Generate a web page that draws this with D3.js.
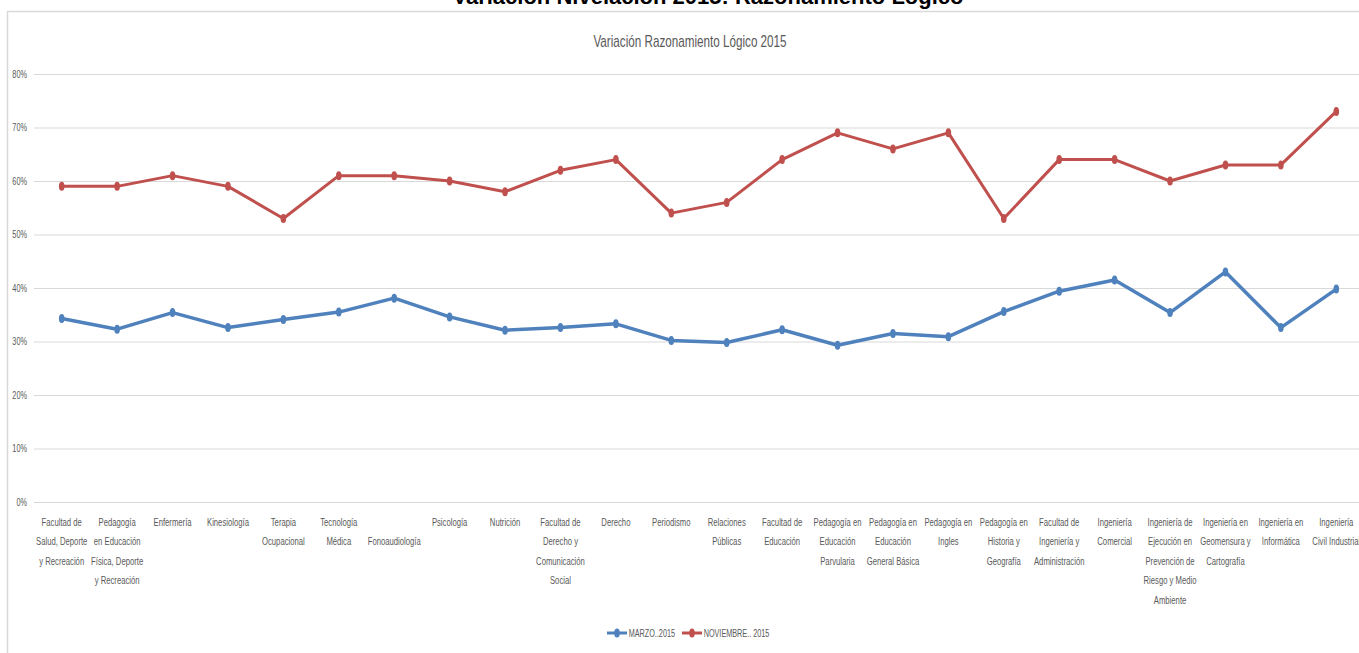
<!DOCTYPE html>
<html>
<head>
<meta charset="utf-8">
<style>
  body { margin: 0; background: #fff; }
  svg { display: block; }
  text { font-family: "Liberation Sans", Arial, sans-serif; }
</style>
</head>
<body>
<svg width="1359" height="653"></svg>
<script src="https://cdnjs.cloudflare.com/ajax/libs/d3/7.8.5/d3.min.js"></script>
<script>
  // tick labels, already broken into lines the way the original wraps them
  var categories = [
    "Facultad de|Salud, Deporte|y Recreación",
    "Pedagogía|en Educación|Física, Deporte|y Recreación",
    "Enfermería",
    "Kinesiología",
    "Terapia|Ocupacional",
    "Tecnología|Médica",
    "|Fonoaudiología",
    "Psicología",
    "Nutrición",
    "Facultad de|Derecho y|Comunicación|Social",
    "Derecho",
    "Periodismo",
    "Relaciones|Públicas",
    "Facultad de|Educación",
    "Pedagogía en|Educación|Parvularia",
    "Pedagogía en|Educación|General Básica",
    "Pedagogía en|Ingles",
    "Pedagogía en|Historia y|Geografía",
    "Facultad de|Ingeniería y|Administración",
    "Ingeniería|Comercial",
    "Ingeniería de|Ejecución en|Prevención de|Riesgo y Medio|Ambiente",
    "Ingeniería en|Geomensura y|Cartografía",
    "Ingeniería en|Informática",
    "Ingeniería|Civil Industrial"
  ];

  var marzo = [34.3, 32.3, 35.4, 32.6, 34.1, 35.5, 38.1, 34.6, 32.1, 32.6, 33.3, 30.2,
               29.8, 32.2, 29.3, 31.5, 30.9, 35.6, 39.4, 41.5, 35.4, 43.0, 32.6, 39.8];
  var noviembre = [59, 59, 61, 59, 53, 61, 61, 60, 58, 62, 64, 54,
                   56, 64, 69, 66, 69, 53, 64, 64, 60, 63, 63, 73];

  var yTicks = [0, 10, 20, 30, 40, 50, 60, 70, 80];
  var seriesNames = ["MARZO..2015", "NOVIEMBRE.. 2015"];
  var seriesColors = ["#4F81BD", "#C0504D"];

  var narrow = 0.7;   // squeeze glyphs to look like the condensed original font

  var svg = d3.select("svg"),
      margin = {top: 74, right: -5, bottom: 151, left: 34},
      width = +svg.attr("width") - margin.left - margin.right,
      height = +svg.attr("height") - margin.top - margin.bottom;

  // page title, mostly cut off at the top edge
  svg.append("text")
      .attr("x", 708)
      .attr("y", 4)
      .attr("text-anchor", "middle")
      .style("font-weight", "bold")
      .style("font-size", "22px")
      .attr("fill", "#000")
      .text("Variación Nivelación 2015: Razonamiento Lógico");

  // chart frame
  svg.append("path")
      .attr("d", "M7.5,653V11.5H1359")
      .attr("fill", "none")
      .attr("stroke", "#d9d9d9")
      .attr("stroke-width", 1.5);

  svg.append("g")
      .attr("transform", "translate(690,47) scale(0.73,1)")
    .append("text")
      .attr("text-anchor", "middle")
      .attr("fill", "#595959")
      .style("font-size", "16px")
      .text("Variación Razonamiento Lógico 2015");

  var g = svg.append("g").attr("transform", "translate(" + margin.left + "," + margin.top + ")");

  var x = d3.scaleBand()
      .domain(categories)
      .range([0, width]);

  var y = d3.scaleLinear()
      .domain([0, 80])
      .range([height, 0]);

  g.append("g")
      .call(d3.axisLeft(y).tickValues(yTicks).tickSize(-width).tickFormat(function(d) { return d + "%"; }))
      .call(function(a) {
        a.select(".domain").remove();
        a.selectAll(".tick line").attr("stroke", "#d9d9d9");
        a.selectAll(".tick text")
            .attr("x", -7 / narrow)
            .attr("transform", "scale(" + narrow + ",1)")
            .attr("fill", "#595959")
            .style("font-size", "10.5px");
      });

  var xAxis = g.append("g")
      .attr("transform", "translate(0," + height + ")")
      .call(d3.axisBottom(x).tickSize(0).tickFormat(""));
  xAxis.select(".domain").remove();

  xAxis.selectAll(".tick").each(function(d) {
    var t = d3.select(this).append("text")
        .attr("fill", "#595959")
        .attr("text-anchor", "middle")
        .attr("transform", "scale(" + narrow + ",1)")
        .style("font-size", "11px");
    d.split("|").forEach(function(line, i) {
      t.append("tspan")
          .attr("x", 0)
          .attr("y", 24 + i * 19.4)
          .text(line);
    });
  });

  var line = d3.line()
      .x(function(d, i) { return x(categories[i]) + x.bandwidth() / 2; })
      .y(function(d) { return y(d); });

  [marzo, noviembre].forEach(function(s, k) {
    g.append("path")
        .datum(s)
        .attr("fill", "none")
        .attr("stroke", seriesColors[k])
        .attr("stroke-width", k === 0 ? 3.5 : 3)
        .attr("stroke-linejoin", "round")
        .attr("d", line);

    g.selectAll(".m" + k)
      .data(s)
      .enter().append("ellipse")
        .attr("cx", function(d, i) { return x(categories[i]) + x.bandwidth() / 2; })
        .attr("cy", function(d) { return y(d); })
        .attr("rx", 2.8)
        .attr("ry", 4.5)
        .attr("fill", seriesColors[k]);
  });

  // legend
  var legend = svg.append("g").attr("transform", "translate(607,633)");
  var lx = [0, 75];
  seriesNames.forEach(function(n, k) {
    var lg = legend.append("g").attr("transform", "translate(" + lx[k] + ",0)");
    lg.append("line")
        .attr("x1", 0).attr("x2", 20)
        .attr("stroke", seriesColors[k])
        .attr("stroke-width", 3);
    lg.append("ellipse")
        .attr("cx", 10).attr("rx", 2.8).attr("ry", 4.5)
        .attr("fill", seriesColors[k]);
    lg.append("text")
        .attr("x", 23 / narrow)
        .attr("dy", "0.35em")
        .attr("transform", "scale(0.66,1)")
        .attr("fill", "#595959")
        .style("font-size", "11px")
        .text(n);
  });
</script>
</body>
</html>
